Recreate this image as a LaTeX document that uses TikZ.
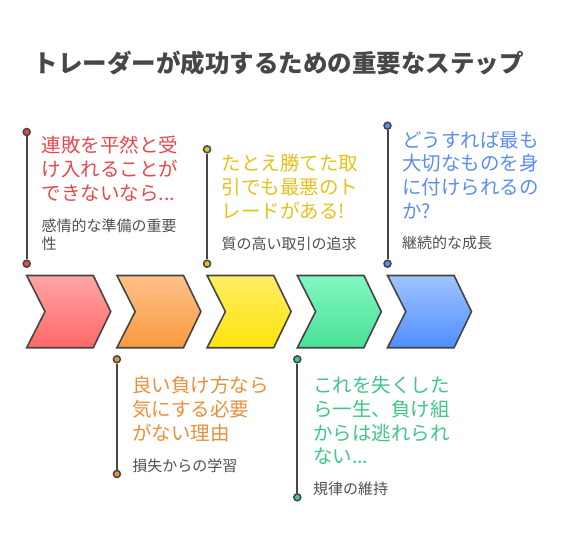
\documentclass[tikz,border=0pt]{standalone}
\usepackage{fontspec}
\setmainfont{Noto Sans CJK JP}
\usetikzlibrary{positioning}
\definecolor{cline}{HTML}{454545}
\definecolor{ctitle}{HTML}{474747}
\definecolor{cnote}{HTML}{505050}
\definecolor{cred}{HTML}{E5484D}
\definecolor{corange}{HTML}{E8903A}
\definecolor{cyellow}{HTML}{E3C21A}
\definecolor{cgreen}{HTML}{3EC785}
\definecolor{cblue}{HTML}{5B8DEF}
\definecolor{redtop}{HTML}{FFA5A5}
\definecolor{redbot}{HTML}{FF6868}
\definecolor{orangetop}{HTML}{FFC088}
\definecolor{orangebot}{HTML}{F99A40}
\definecolor{yellowtop}{HTML}{FFEE66}
\definecolor{yellowbot}{HTML}{FFE30A}
\definecolor{greentop}{HTML}{82F8C2}
\definecolor{greenbot}{HTML}{48E095}
\definecolor{bluetop}{HTML}{A0C4FF}
\definecolor{bluebot}{HTML}{4F8EFF}
\tikzset{
  every picture/.style={line width=1.6pt},
  title/.style={font=\fontsize{24.5}{28}\selectfont\bfseries, text=ctitle, inner sep=0pt},
  head/.style={font=\fontsize{19.5}{23.8}\selectfont, text=#1, align=left, anchor=north west, inner sep=0pt},
  note/.style={font=\fontsize{15}{18.3}\selectfont, text=cnote, align=left, anchor=north west, inner sep=0pt},
  dot/.style={circle, draw=cline, fill=#1, line width=1.5pt, minimum size=7pt, inner sep=0pt},
  stem/.style={draw=cline, line width=2pt},
  chev/.style={draw=cline, line width=1.6pt},
}

\begin{document}
\begin{tikzpicture}[x=1pt, y=-1pt]
  \useasboundingbox (0,0) rectangle (567,549);
  \node[title] (ttl) at (278.5,63) {トレーダーが成功するための重要なステップ};
  % chevrons
  \foreach \col [count=\i from 0] in {red,orange,yellow,green,blue} {
    \pgfmathsetmacro\xl{26.7+90.2*\i}
    \path[chev, top color=\col top, bottom color=\col bot]
      (\xl,275.5) -- ++(66.6,0) -- ++(17.4,36.1) -- ++(-17.4,36.1)
      -- ++(-66.6,0) -- ++(18.3,-36.1) -- cycle;
  }
  % upper labels
  \node[head=cred] (rh) at (40.8,135.5) {連敗を平然と受\\け入れることが\\できないなら...};
  \node[note] (rn) at ([yshift=-15.5pt]rh.south west) {感情的な準備の重要\\性};
  \node[head=cyellow] (yh) at (220.8,153.7) {たとえ勝てた取\\引でも最悪のト\\レードがある!};
  \node[note] (yn) at ([yshift=-15.5pt]yh.south west) {質の高い取引の追求};
  \node[head=cblue] (bh) at (401.4,130.3) {どうすれば最も\\大切なものを身\\に付けられるの\\か?};
  \node[note] (bn) at ([yshift=-15.5pt]bh.south west) {継続的な成長};
  % lower labels
  \node[head=corange] (oh) at (131.5,375.3) {良い負け方なら\\気にする必要\\がない理由};
  \node[note] (on) at ([yshift=-15.5pt]oh.south west) {損失からの学習};
  \node[head=cgreen] (gh) at (312.2,375.3) {これを失くした\\ら一生、負け組\\からは逃れられ\\ない...};
  \node[note] (gn) at ([yshift=-15.5pt]gh.south west) {規律の維持};
  % stems
  \node[dot=cred] (rt) at (26.7,132) {};
  \node[dot=cred] (rb) at (26.7,263.7) {};
  \node[dot=cyellow] (yt) at (207.1,149.3) {};
  \node[dot=cyellow] (yb) at (207.1,263.7) {};
  \node[dot=cblue] (bt) at (387.5,125.7) {};
  \node[dot=cblue] (bb) at (387.5,263.7) {};
  \node[dot=corange] (ot) at (116.9,359.3) {};
  \node[dot=corange] (ob) at (116.9,474) {};
  \node[dot=cgreen] (gt) at (297.3,359.3) {};
  \node[dot=cgreen] (gb) at (297.3,497.3) {};
  \foreach \a in {r,y,b,o,g}
    \draw[stem] (\a t) -- (\a b);
\end{tikzpicture}
\end{document}
